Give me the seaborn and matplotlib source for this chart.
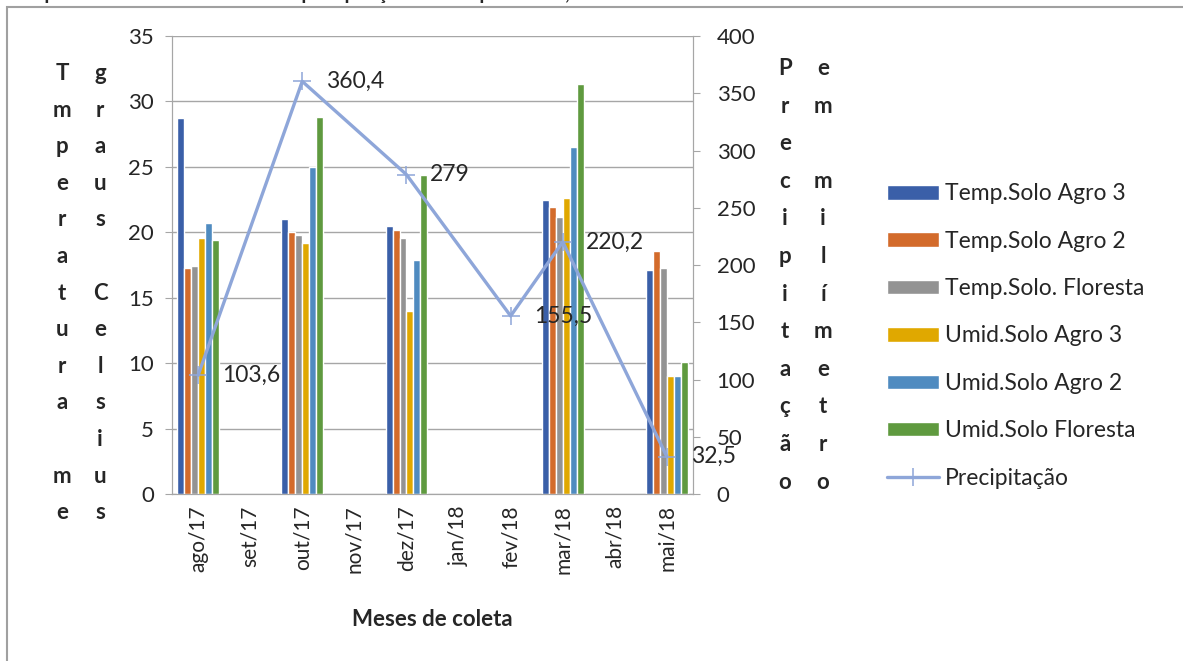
import numpy as np
import pandas as pd
import matplotlib.pyplot as plt
from matplotlib.patches import Rectangle
import seaborn as sns

# --- dados ---
meses = ['ago/17', 'set/17', 'out/17', 'nov/17', 'dez/17',
         'jan/18', 'fev/18', 'mar/18', 'abr/18', 'mai/18']
series = ['Temp.Solo Agro 3', 'Temp.Solo Agro 2', 'Temp.Solo. Floresta',
          'Umid.Solo Agro 3', 'Umid.Solo Agro 2', 'Umid.Solo Floresta']
meses_coleta = ['ago/17', 'out/17', 'dez/17', 'mar/18', 'mai/18']
temp_agro3 = [28.7, 21.0, 20.5, 22.5, 17.1]
temp_agro2 = [17.3, 20.0, 20.2, 21.9, 18.6]
temp_floresta = [17.4, 19.8, 19.6, 21.2, 17.3]
umid_agro3 = [19.6, 19.2, 14.0, 22.6, 9.0]
umid_agro2 = [20.7, 25.0, 17.9, 26.5, 9.0]
umid_floresta = [19.4, 28.8, 24.4, 31.3, 10.1]

meses_prec = ['ago/17', 'out/17', 'dez/17', 'fev/18', 'mar/18', 'mai/18']
precipitacao = [103.6, 360.4, 279, 155.5, 220.2, 32.5]
rotulos_prec = ['103,6', '360,4', '279', '155,5', '220,2', '32,5']

cores = ['#3A5FA8', '#D36B2B', '#939393', '#E0A800', '#4F8BC0', '#5F9A3F']
cor_linha = '#8EA6D9'
cinza = '#A6A6A6'

valores = [temp_agro3, temp_agro2, temp_floresta, umid_agro3, umid_agro2, umid_floresta]
linhas = []
for nome, vals in zip(series, valores):
    for m, v in zip(meses_coleta, vals):
        linhas.append({'Mes': m, 'Serie': nome, 'Valor': v})
df = pd.DataFrame(linhas)

sns.set_style('white')
plt.rcParams['font.family'] = ['Lato', 'DejaVu Sans']

fig = plt.figure(figsize=(11.83, 6.61), dpi=100)
fig.subplots_adjust(left=0.1454, right=0.5858, bottom=0.2526, top=0.9455)
ax = fig.add_subplot(111)

# moldura cinza e título cortado no topo
fig.patches.append(Rectangle((7 / 1183, -0.1), 1.2, 1.1 - 6.5 / 661,
                             transform=fig.transFigure, fill=False,
                             edgecolor='#A0A0A0', linewidth=1.5, zorder=0))
fig.text(0.005, 1 + 0.021, 'Temperatura e umidade do solo e precipitação no Campo Nativo, Jataí',
         fontsize=14, fontweight='bold', va='top', ha='left')

sns.barplot(data=df, x='Mes', y='Valor', hue='Serie', order=meses,
            hue_order=series, palette=cores, saturation=1, errorbar=None,
            width=0.8, ax=ax, zorder=3)
handles, labels = ax.get_legend_handles_labels()
ax.get_legend().remove()

ax.set_ylim(0, 35)
ax.set_yticks(np.arange(0, 36, 5))
ax.set_xlim(-0.5, len(meses) - 0.5)
ax.yaxis.grid(True, color=cinza, linewidth=1, zorder=0)
ax.set_axisbelow(True)
ax.set_xlabel('Meses de coleta', fontsize=16, fontweight='bold')
ax.set_ylabel('')
ax.set_xticks(range(len(meses)))
ax.set_xticklabels(meses, rotation=90, fontsize=15)
ax.set_xticks(np.arange(-0.5, len(meses), 1), minor=True)
ax.tick_params(axis='x', which='major', length=0, pad=8)
ax.tick_params(axis='x', which='minor', length=5, color=cinza, direction='out')
ax.tick_params(axis='y', labelsize=16, length=5, color=cinza, direction='out',
               left=True, pad=8)
ax.xaxis.set_label_coords(0.5, -0.25)
for s in ax.spines.values():
    s.set_color(cinza)
ax.spines['top'].set_visible(False)

# eixo secundário: precipitação
ax2 = ax.twinx()
pos_prec = [meses.index(m) for m in meses_prec]
sns.lineplot(x=pos_prec, y=precipitacao, ax=ax2, color=cor_linha, linewidth=2.4,
             marker='+', markersize=13, markeredgewidth=1.1,
             markeredgecolor=cor_linha, label='Precipitação', zorder=5)
h2, l2 = ax2.get_legend_handles_labels()
ax2.get_legend().remove()
for x, y, t in zip(pos_prec, precipitacao, rotulos_prec):
    ax2.annotate(t, (x, y), xytext=(17, 0), textcoords='offset points',
                 ha='left', va='center', fontsize=16.5)
ax2.set_ylim(0, 400)
ax2.set_yticks(np.arange(0, 401, 50))
ax2.tick_params(axis='y', labelsize=16, length=5, color=cinza, direction='out',
                right=True, pad=12)
for s in ax2.spines.values():
    s.set_color(cinza)
ax2.spines['top'].set_visible(False)
ax2.set_xlim(-0.5, len(meses) - 0.5)

# rótulos verticais letra a letra
def coluna(letras, x, y0, passo):
    for i, c in enumerate(letras):
        fig.text(x / 1183, 1 - (y0 + i * passo) / 661, c, fontsize=16,
                 fontweight='bold', ha='center', va='baseline')

coluna(list('Tmperatura me'), 62, 80, 36.6)
coluna(list('graus Celsius'), 100, 80, 36.6)
coluna(list('Precipitação'), 785, 75, 37.6)
coluna(list('em milímetro'), 823, 75, 37.6)

fig.legend(handles + h2, labels + l2, loc='center left',
           bbox_to_anchor=(866 / 1183, 1 - 336 / 661), frameon=False,
           fontsize=16.5, handlelength=2.3, handleheight=0.6,
           handletextpad=0.25, labelspacing=1.15)

fig.savefig('out.png', dpi=100)
